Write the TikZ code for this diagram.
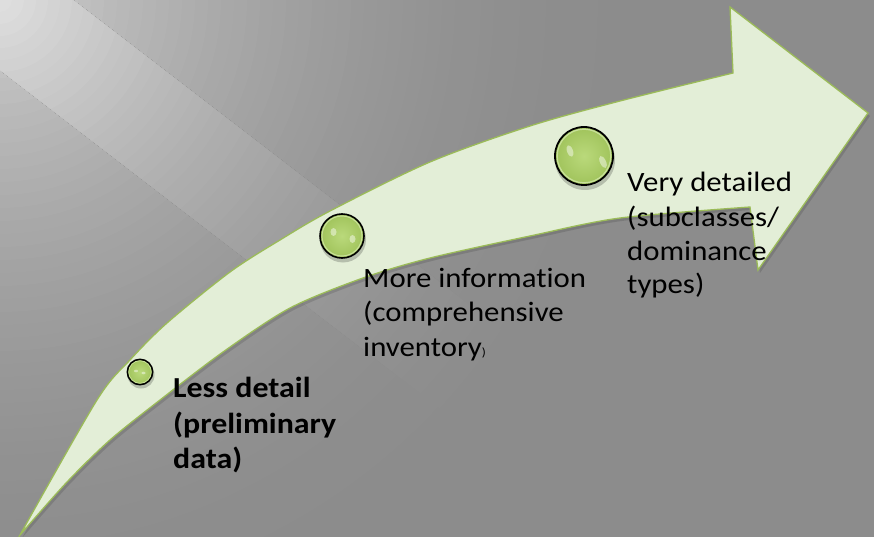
\documentclass[tikz,border=0pt]{standalone}
\usepackage{fontspec}
\setmainfont{Carlito}[FakeStretch=1.1, Ligatures=CommonOff]
\definecolor{bggray}{HTML}{8C8C8C}
\definecolor{arrowfill}{HTML}{E3EED7}
\definecolor{arrowline}{HTML}{9BBB59}
\definecolor{ballin}{HTML}{BAD97B}
\definecolor{ballout}{HTML}{A0C35B}
\definecolor{ballrim}{HTML}{D2E7AA}
\begin{document}
\begin{tikzpicture}[x=1pt,y=-1pt,
  lbl/.style={anchor=base west, inner sep=0pt, text=black, font=\fontsize{28}{34}\selectfont},
  lblb/.style={anchor=base west, inner sep=0pt, text=black, font=\fontsize{29}{35}\selectfont\bfseries},
  ballpos/.style={circle, inner sep=0pt, minimum size=#1},
  ballborder/.style={draw=black, line width=#1},
  hilite/.style={fill=white, opacity=0.45}]
\useasboundingbox (0,0) rectangle (874,537);
% background
\fill[bggray] (0,0) rectangle (874,537);
\begin{scope}
  \clip (0,0) rectangle (874,537);
  \foreach \i in {50,49,...,1}{
    \pgfmathsetmacro{\r}{\i*13}
    \pgfmathsetmacro{\p}{60*(1-\r/650)^2}
    \fill[white!\p!bggray] (0,0) circle (\r);
  }
  \begin{scope}
    \clip (0,0) -- (73,0) -- (697,480) -- (624,550) -- (0,70) -- cycle;
    \foreach \i in {50,49,...,1}{
      \pgfmathsetmacro{\r}{\i*12}
      \pgfmathsetmacro{\p}{60*(1-\r/650)^2+14*(1-\r/600)}
      \fill[white!\p!bggray] (0,0) circle (\r);
    }
  \end{scope}
\end{scope}
% arrow
\path[save path=\arrowp] (20,535) -- plot[smooth] coordinates {(20,535) (97,400) (130,360) (167,323) (230,272) (280,240) (330,211) (430,162) (530,126) (620,101) (733,73)}
  -- (730,7) -- (868,113) -- (758,270) -- (750,207)
  -- plot[smooth] coordinates {(750,207) (620,218) (530,236) (430,258) (363,278) (290,308) (223,352) (160,400) (110,440) (67,482) (20,535)} -- cycle;
\begin{scope}[transform canvas={shift={(2pt,-3pt)}}]
  \fill[black, opacity=0.12, use path=\arrowp];
\end{scope}
\path[use path=\arrowp, fill=arrowfill, draw=arrowline, line width=1.3pt];
% balls
\node[ballpos=25.4pt] (b1) at (140,372) {};
\fill[black, opacity=0.2] (141,375) circle (13.5);
\shade[inner color=ballin, outer color=ballout] (b1.center) circle (12.7);
\draw[ballrim, line width=0.8pt, opacity=0.8] (b1.center) circle (11.3);
\fill[hilite] (136,371) ellipse (2 and 1.3);
\fill[hilite] (143.5,373) ellipse (2 and 1.3);
\draw[ballborder=1.5pt] (b1.center) circle (12.7);

\node[ballpos=44pt] (b2) at (342,236) {};
\fill[black, opacity=0.2] (343,239.5) circle (23);
\shade[inner color=ballin, outer color=ballout] (b2.center) circle (22);
\draw[ballrim, line width=1pt, opacity=0.8] (b2.center) circle (20);
\fill[hilite] (333.5,232) ellipse (3 and 4);
\fill[hilite] (352.5,239) ellipse (3 and 4);
\draw[ballborder=1.6pt] (b2.center) circle (22);

\node[ballpos=58pt] (b3) at (584,156) {};
\fill[black, opacity=0.2] (585,160) circle (30);
\shade[inner color=ballin, outer color=ballout] (b3.center) circle (29);
\draw[ballrim, line width=1.2pt, opacity=0.8] (b3.center) circle (26.8);
\fill[hilite, rotate around={20:(570,151)}] (570,151) ellipse (3 and 6);
\fill[hilite, rotate around={25:(603,162)}] (603,162) ellipse (3 and 6.5);
\draw[ballborder=1.8pt] (b3.center) circle (29);
% labels
\node[lblb] (less1) at (173,397) {Less detail};
\node[lblb] (less2) at (173,433) {(preliminary};
\node[lblb] (less3) at (173,468) {data)};
\node[lbl] (more1) at (363,287) {More information};
\node[lbl] (more2) at (363,321) {(comprehensive};
\node[lbl] (more3) at (363,356) {inventory{\fontsize{12}{12}\selectfont )}};
\node[lbl] (very1) at (627,192) {Very detailed};
\node[lbl] (very2) at (627,226) {(subclasses/};
\node[lbl] (very3) at (627,260) {dominance};
\node[lbl] (very4) at (627,293) {types)};
\end{tikzpicture}
\end{document}
